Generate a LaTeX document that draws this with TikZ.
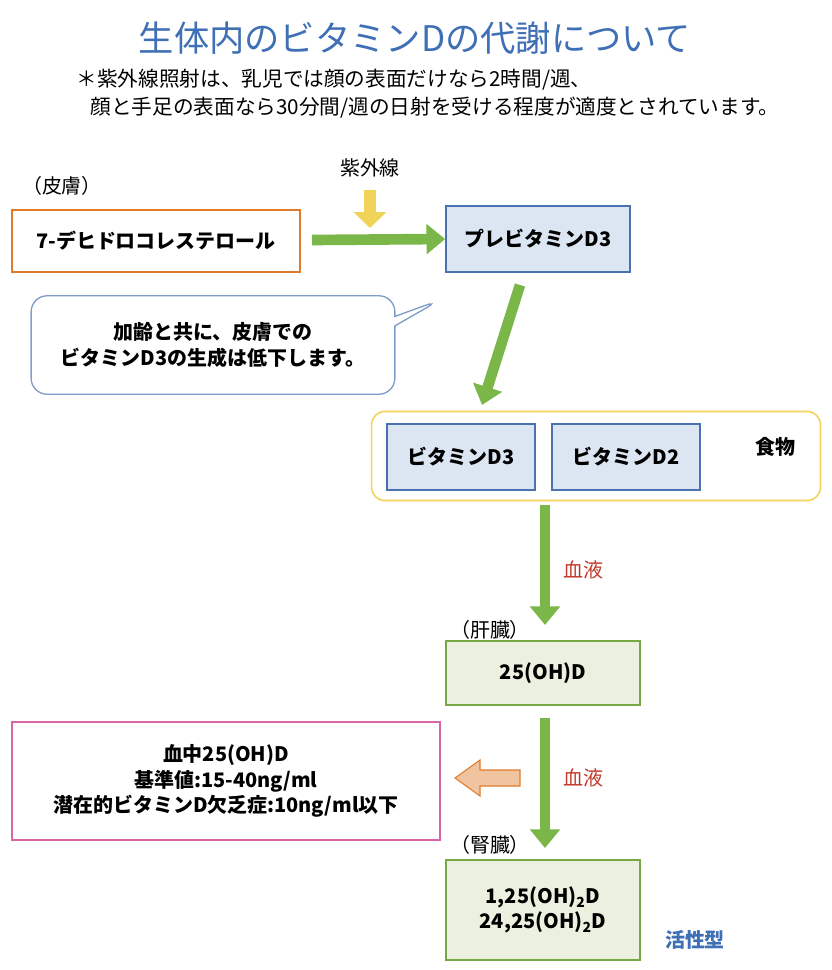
\documentclass[tikz,border=0pt]{standalone}
\usepackage{fontspec}
\setmainfont{Noto Sans CJK JP}
\usetikzlibrary{arrows.meta,shapes.callouts,positioning}
\definecolor{vgreen}{HTML}{7AB648}
\definecolor{vblue}{HTML}{4A72B0}
\definecolor{vbluefill}{HTML}{DCE6F2}
\definecolor{vgreenfill}{HTML}{EBF1DE}
\definecolor{vgreenline}{HTML}{77A844}
\definecolor{vorange}{HTML}{E07B2C}
\definecolor{vpink}{HTML}{D966A8}
\definecolor{vyellow}{HTML}{F2D35A}
\definecolor{vtitle}{HTML}{3F6FB5}
\definecolor{vred}{HTML}{C0392B}
\tikzset{
  big/.style={font=\fontsize{15}{19}\selectfont},
  bigb/.style={font=\fontsize{15}{19}\selectfont\bfseries},
  bluebox/.style={draw=vblue,fill=vbluefill,line width=1.5pt,minimum height=1.75cm,bigb},
  greenbox/.style={draw=vgreenline,fill=vgreenfill,line width=1.5pt,bigb,align=center},
  flow/.style={vgreen,line width=8pt,-{Triangle[length=14pt,width=22pt]}},
  organ/.style={big},
  blood/.style={text=vred,big}
}
\begin{document}
\begin{tikzpicture}[x=0.0264cm,y=-0.0264cm]
\useasboundingbox (0,0) rectangle (831,970);
% title and note
\node[text=vtitle,font=\fontsize{26.5}{30}\selectfont] (title) at (415,38) {生体内のビタミンDの代謝について};
\node[anchor=west,font=\fontsize{15.5}{18}\selectfont] (note1) at (72,80) {＊紫外線照射は、乳児では顔の表面だけなら2時間/週、};
\node[anchor=west,font=\fontsize{15.5}{18}\selectfont] (note2) at (86,108) {顔と手足の表面なら30分間/週の日射を受ける程度が適度とされています。};
% skin
\node[organ] (skin) at (62,186) {（皮膚）};
\node[draw=vorange,line width=1.5pt,minimum width=7.6cm,minimum height=1.65cm,bigb] (dhc) at (156,241) {7-デヒドロコレステロール};
\node[bluebox,minimum width=4.85cm] (pre) at (538,239) {プレビタミンD3};
\node[organ] (uv) at (370,168) {紫外線};
\coordinate (uvtop) at (370,190);
\coordinate (uvend) at (370,228);
\draw[vyellow,line width=9pt,-{Triangle[length=12pt,width=24pt]}] (uvtop) -- (uvend);
\draw[flow] (312,240) -- (pre.west);
% callout
\node[rectangle callout,rounded corners=12pt,draw=vblue!70,line width=1pt,minimum width=9.6cm,minimum height=2.6cm,
  align=center,bigb,callout absolute pointer={(440,300)}] (age) at (213,345)
  {加齢と共に、皮膚での\\ビタミンD3の生成は低下します。};
% food
\node[draw=vyellow,rounded corners=10pt,line width=1.2pt,minimum width=11.85cm,minimum height=2.35cm] (food) at (596,456) {};
\node[bluebox,minimum width=3.9cm] (d3) at (461,457) {ビタミンD3};
\node[bluebox,minimum width=3.9cm] (d2) at (626,457) {ビタミンD2};
\node[bigb] (foodlbl) at (775,447) {食物};
\draw[flow] (520,285) -- (482,405);
% liver
\draw[flow] (545,505) -- (545,625);
\node[blood] (blood1) at (583,570) {血液};
\node[organ] (liverlbl) at (490,630) {（肝臓）};
\node[greenbox,minimum width=5.1cm,minimum height=1.7cm] (ohd) at (543,673) {25(OH)D};
% kidney
\draw[flow] (545,718) -- (545,848);
\node[blood] (blood2) at (583,778) {血液};
\node[draw=vpink,line width=1.5pt,minimum width=11.3cm,minimum height=3.1cm,align=center,bigb] (ref) at (226,781)
  {血中25(OH)D\\基準値:15-40ng/ml\\潜在的ビタミンD欠乏症:10ng/ml以下};
\draw[draw=vorange,fill=vorange!45,line width=0.8pt] (520,770) -- (480,770) -- (480,760) -- (455,778) -- (480,796) -- (480,786) -- (520,786) -- cycle;
\node[organ] (kidneylbl) at (490,845) {（腎臓）};
\node[greenbox,minimum width=5.1cm,minimum height=2.65cm] (active) at (543,910)
  {1,25(OH)\textsubscript{2}D\\24,25(OH)\textsubscript{2}D};
\node[text=vtitle,bigb] (activelbl) at (695,940) {活性型};
\end{tikzpicture}
\end{document}
